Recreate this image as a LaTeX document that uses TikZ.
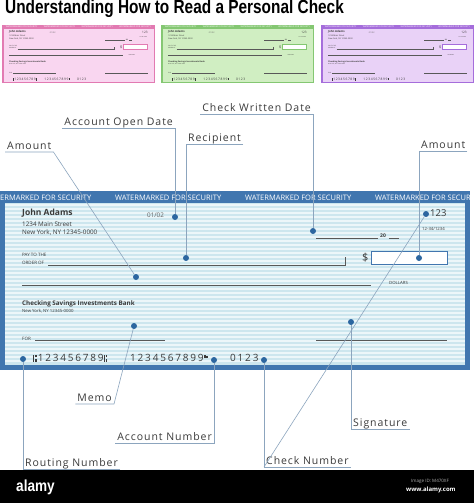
\documentclass[tikz,border=0pt]{standalone}
\usepackage{fontspec}
\usepackage{graphicx}
\setmainfont{Open Sans}
\newfontfamily\lblfont[LetterSpace=9]{Open Sans}
\newfontfamily\micrfont[LetterSpace=18]{Open Sans}
\newfontfamily\ttlfont{Liberation Sans}
\usetikzlibrary{positioning}
\definecolor{ChkFrame}{HTML}{4176AF}
\definecolor{ChkBody}{HTML}{CDE6EE}
\definecolor{ChkStripe}{HTML}{ECF6F9}
\definecolor{ChkInk}{HTML}{3A3A3A}
\definecolor{DotBlue}{HTML}{2C66A0}
\definecolor{CallLine}{HTML}{8CA5BE}
\definecolor{LblText}{HTML}{3A3A3A}
\definecolor{PnkFrame}{HTML}{E27AB2}
\definecolor{PnkBody}{HTML}{F9D6F0}
\definecolor{GrnFrame}{HTML}{84C772}
\definecolor{GrnBody}{HTML}{D0EEC2}
\definecolor{PurFrame}{HTML}{A56DDB}
\definecolor{PurBody}{HTML}{E9D2F7}
\newcommand\fsz[1]{\fontsize{#1}{#1}\selectfont}
\newcommand\micrT{\rule{1.2pt}{7pt}\kern0.8pt\rlap{\raisebox{4.2pt}{\rule{1.6pt}{2.6pt}}}\rule{1.6pt}{2.6pt}\kern1pt}
\newcommand\micrU{\kern0.5pt\raisebox{3.5pt}{\rule{0.7pt}{3.5pt}\kern0.5pt\rule{0.7pt}{3.5pt}\kern0.5pt\rule{1.8pt}{1.8pt}}}
\tikzset{
  ck/.style={anchor=west, inner sep=0pt, text=ChkInk},
  ckl/.style={draw=ChkInk!85, line width=0.5pt},
  wmk/.style={anchor=west, inner sep=0pt, text=white, font=\fsz{7.5}},
  micr/.style={ck, font=\micrfont\fsz{10}},
  dot/.style={circle, fill=DotBlue, inner sep=0pt, minimum size=6pt},
  lbl/.style={inner xsep=2pt, inner ysep=2.5pt, text depth=0pt, text=LblText,
              font=\lblfont\fsz{10.5}},
  call/.style={draw=CallLine, line width=0.6pt},
}
% one check, top-left corner at (0,0), 470 x 179
% #1 frame  #2 body  #3 stripes  #4 name prefix  #5 watermark starts
\newcommand\drawcheck[5]{%
  \node[fill=#1, minimum width=470pt, minimum height=179pt, inner sep=0pt, anchor=north west] (#4-frame) at (0,0) {};
  \node[fill=#2, minimum width=460pt, minimum height=162pt, inner sep=0pt, anchor=north west] (#4-body) at (5,12) {};
  \foreach \s in {14,18,...,172}
    \draw[#3, line width=1.5pt] (5,\s) -- (465,\s);
  \begin{scope}
    \clip (0,0) rectangle (470,12);
    \foreach \wx/\i in {#5}
      \node[wmk] (#4-wm\i) at (\wx,6.5) {WATERMARKED FOR SECURITY};
  \end{scope}
  \node[ck, font=\bfseries\fsz{8.5}] (#4-owner) at (22,22) {John Adams};
  \node[ck, font=\fsz{6.3}] (#4-street) at (22,33) {1234 Main Street};
  \node[ck, font=\fsz{6.3}] (#4-city) at (22,42) {New York, NY 12345-0000};
  \node[ck, font=\fsz{6.3}, text=ChkInk!80] (#4-open) at (147,24) {01/02};
  \node[ck, font=\fsz{9.5}] (#4-num) at (430,22) {123};
  \node[ck, font=\fsz{4.3}] (#4-frac) at (422,38) {12-34/1234};
  \draw[ckl] (316,47) -- (378,47);
  \node[ck, font=\bfseries\fsz{5}] (#4-yr) at (380,45) {20};
  \draw[ckl] (389,47) -- (399,47);
  \node[ck, font=\fsz{4.5}] (#4-pay) at (22,64) {PAY TO THE};
  \node[ck, font=\fsz{4.5}] (#4-ord) at (22,72) {ORDER OF};
  \draw[ckl] (48,74) -- (345,74) -- (345,66);
  \node[ck, font=\fsz{11}] (#4-dol) at (362,67) {\$};
  \node[draw=#1, fill=white, line width=0.7pt, minimum width=76pt, minimum height=13pt, inner sep=0pt, anchor=north west] (#4-box) at (371,60) {};
  \draw[ckl] (22,94) -- (371,94);
  \node[ck, font=\fsz{4.3}] (#4-dollars) at (389,92) {DOLLARS};
  \node[ck, font=\bfseries\fsz{6.3}] (#4-bank) at (22,113) {Checking Savings Investments Bank};
  \node[ck, font=\fsz{4.3}] (#4-bcity) at (22,120) {New York, NY 12345-0000};
  \node[ck, font=\fsz{4.5}] (#4-for) at (22,148) {FOR};
  \draw[ckl] (35,149) -- (165,149);
  \draw[ckl] (316,149) -- (447,149);
  \node[micr] (#4-rout) at (33,167) {\micrT123456789\micrT};
  \node[micr] (#4-acct) at (130,167) {1234567899\micrU};
  \node[micr] (#4-chk) at (230,167) {0123};
}

\begin{document}
\begin{tikzpicture}[x=1pt,y=-1pt]
\path[use as bounding box, fill=white] (0,0) rectangle (474,503);

% ---------------- title and the three coloured checks ----------------
\node[anchor=west, inner sep=0pt, font=\ttlfont\bfseries\fsz{19}] (title) at (5,9)
  {\scalebox{0.81}[1]{Understanding How to Read a Personal Check}};
\begin{scope}[shift={(2,25)}, scale=0.326, transform shape, wmk/.append style={font=\fsz{6.8}}]
  \drawcheck{PnkFrame}{PnkBody}{PnkBody}{pk}{12/1,128/2,244/3,360/4}
\end{scope}
\begin{scope}[shift={(161,25)}, scale=0.326, transform shape, wmk/.append style={font=\fsz{6.8}}]
  \drawcheck{GrnFrame}{GrnBody}{GrnBody}{gr}{12/1,128/2,244/3,360/4}
\end{scope}
\begin{scope}[shift={(321,25)}, scale=0.326, transform shape, wmk/.append style={font=\fsz{6.8}}]
  \drawcheck{PurFrame}{PurBody}{PurBody}{pu}{12/1,128/2,244/3,360/4}
\end{scope}

% ---------------- the large check ----------------
\begin{scope}[shift={(0,191)}]
  \drawcheck{ChkFrame}{ChkBody}{ChkStripe}{mc}{-15/1,115/2,245/3,375/4}
\end{scope}

% dots
\node[dot] (dOpen) at (175,217) {};
\node[dot] (dRec)  at (186,258) {};
\node[dot] (dWr)   at (313,231) {};
\node[dot] (dAmL)  at (136,277) {};
\node[dot] (dAmR)  at (419,258) {};
\node[dot] (dNum)  at (426,214) {};
\node[dot] (dMemo) at (134,326) {};
\node[dot] (dSig)  at (351,322) {};
\node[dot] (dRout) at (23,359) {};
\node[dot] (dAcct) at (214,360) {};
\node[dot] (dChk)  at (264,360) {};

% ---------------- labels and callouts ----------------
\node[lbl, anchor=south west] (lAmL)  at (5,152)   {Amount};
\node[lbl, anchor=south east] (lOpen) at (175,128) {Account Open Date};
\node[lbl, anchor=south west] (lRec)  at (186,144) {Recipient};
\node[lbl, anchor=south east] (lWr)   at (313,114) {Check Written Date};
\node[lbl, anchor=south west] (lAmR)  at (419,151) {Amount};
\node[lbl, anchor=south east] (lMemo) at (114,404) {Memo};
\node[lbl, anchor=south east] (lAcct) at (214,443) {Account Number};
\node[lbl, anchor=south west] (lRout) at (23,469)  {Routing Number};
\node[lbl, anchor=south west] (lChk)  at (264,467) {Check Number};
\node[lbl, anchor=south west] (lSig)  at (351,429) {Signature};

\draw[call] (lAmL.south west) -- (lAmL.south east) -- (dAmL);
\draw[call] (lOpen.south west) -| (dOpen);
\draw[call] (lRec.south east) -| (dRec);
\draw[call] (lWr.south west) -| (dWr);
\draw[call] (lAmR.south east) -| (dAmR);
\draw[call] (lMemo.south west) -- (lMemo.south east) -- (dMemo);
\draw[call] (lAcct.south west) -| (dAcct);
\draw[call] (lRout.south east) -| (dRout);
\draw[call] (lChk.south east) -| (dChk);
\draw[call] (dNum) -- (lChk.south west);
\draw[call] (lSig.south east) -| (dSig);

% ---------------- stock bar ----------------
\node[fill=black, minimum width=474pt, minimum height=33pt, inner sep=0pt, anchor=north west] (bar) at (0,470) {};
\node[anchor=west, inner sep=0pt, text=white, font=\ttlfont\bfseries\fsz{16}] (brand) at (16,487) {\scalebox{0.85}[1]{alamy}};
\node[anchor=west, inner sep=0pt, text=white!70!black, font=\fsz{4.5}] (imgid) at (411,481) {Image ID: M470XF};
\node[anchor=west, inner sep=0pt, text=white, font=\bfseries\fsz{6}] (web) at (406,490) {www.alamy.com};
\end{tikzpicture}
\end{document}
